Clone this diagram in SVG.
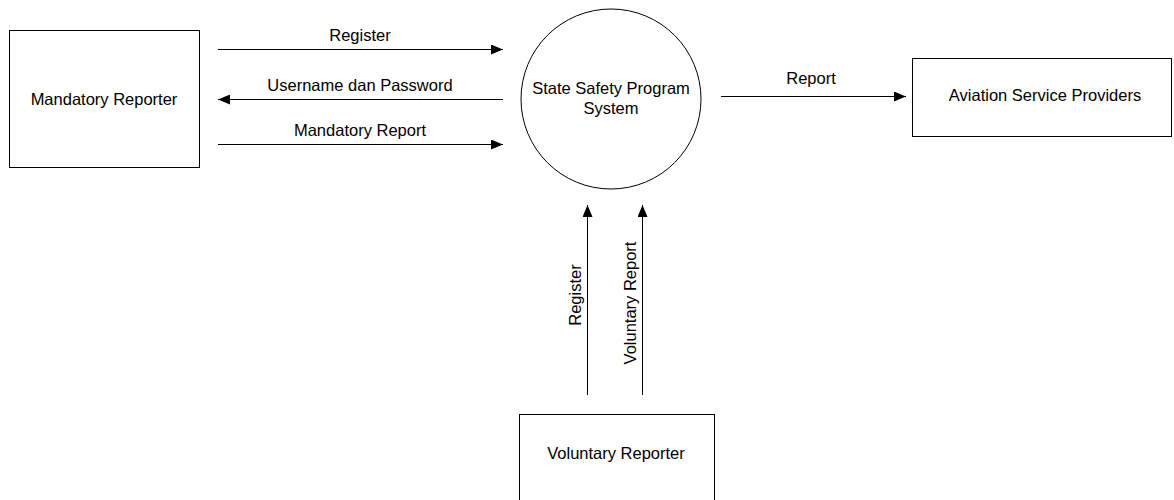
<svg xmlns="http://www.w3.org/2000/svg" width="1174" height="500" viewBox="0 0 1174 500">
<style>
.box{fill:#fff;stroke:#000;stroke-width:1}
.t{font-family:"Liberation Sans",Arial,sans-serif;font-size:16.5px;fill:#000;text-anchor:middle}
.c{stroke:#000;stroke-width:1;fill:none}
</style>
<defs>
<marker id="ah" markerWidth="12" markerHeight="10" refX="12" refY="5" orient="auto" markerUnits="userSpaceOnUse">
<path d="M0,0 L12,5 L0,10 Z" fill="#000"/>
</marker>
</defs>
<rect width="1174" height="500" fill="#fff"/>
<g id="mandatory-reporter">
<rect class="box" x="9.5" y="30.5" width="190" height="137"/>
<text class="t" x="104" y="105">Mandatory Reporter</text>
</g>
<g id="ssp-system">
<circle class="box" cx="611" cy="99" r="90"/>
<text class="t" x="611" y="94">State Safety Program</text>
<text class="t" x="611" y="114">System</text>
</g>
<g id="aviation-service-providers">
<rect class="box" x="912.5" y="58.5" width="259" height="78"/>
<text class="t" x="1045" y="101">Aviation Service Providers</text>
</g>
<g id="voluntary-reporter">
<rect class="box" x="519.5" y="414.5" width="195" height="100"/>
<text class="t" x="616" y="459">Voluntary Reporter</text>
</g>
<g id="connectors">
<line class="c" x1="218" y1="49.5" x2="503" y2="49.5" marker-end="url(#ah)"/>
<text class="t" x="360" y="41">Register</text>
<line class="c" x1="503" y1="99.5" x2="218" y2="99.5" marker-end="url(#ah)"/>
<text class="t" x="360" y="91">Username dan Password</text>
<line class="c" x1="218" y1="144.5" x2="503" y2="144.5" marker-end="url(#ah)"/>
<text class="t" x="360" y="136">Mandatory Report</text>
<line class="c" x1="721" y1="96.5" x2="906" y2="96.5" marker-end="url(#ah)"/>
<text class="t" x="811" y="84">Report</text>
<line class="c" x1="587.5" y1="395" x2="587.5" y2="205" marker-end="url(#ah)"/>
<text class="t" transform="translate(581,295) rotate(-90)">Register</text>
<line class="c" x1="642.5" y1="395" x2="642.5" y2="205" marker-end="url(#ah)"/>
<text class="t" transform="translate(636,303) rotate(-90)">Voluntary Report</text>
</g>
</svg>
